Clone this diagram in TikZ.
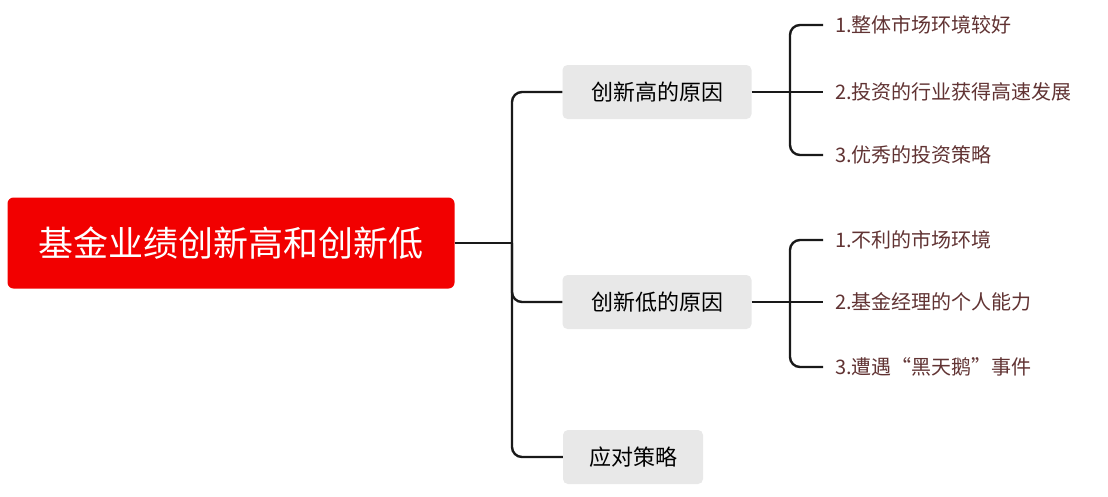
\documentclass[tikz,border=0pt]{standalone}
\usepackage{fontspec}
\setmainfont{Noto Sans CJK SC}
\begin{document}
\begin{tikzpicture}[x=1pt,y=-1pt,
  conn/.style={line width=2.4pt,black!90,rounded corners=10pt},
  root/.style={fill=red!95!black,text=white,rounded corners=6pt,minimum width=447pt,minimum height=91pt,font=\fontsize{35}{40}\selectfont},
  sub/.style={fill=black!9,rounded corners=5pt,minimum height=54pt,font=\fontsize{22}{26}\selectfont},
  leaf/.style={anchor=west,text=black!70!red!60!gray,inner sep=0pt,font=\fontsize{20}{24}\selectfont}]
\useasboundingbox (0,0) rectangle (1108,496);
\fill[white] (0,0) rectangle (1108,496);
\node[root] (r) at (231,243) {基金业绩创新高和创新低};
\node[sub,minimum width=189pt] (h) at (657,92) {创新高的原因};
\node[sub,minimum width=189pt] (l) at (657,302) {创新低的原因};
\node[sub,minimum width=140pt] (s) at (633,457) {应对策略};
\node[leaf] (h1) at (835,25) {1.整体市场环境较好};
\node[leaf] (h2) at (835,92) {2.投资的行业获得高速发展};
\node[leaf] (h3) at (835,155) {3.优秀的投资策略};
\node[leaf] (l1) at (835,240) {1.不利的市场环境};
\node[leaf] (l2) at (835,302) {2.基金经理的个人能力};
\node[leaf] (l3) at (835,367) {3.遭遇“黑天鹅”事件};
\coordinate (t) at (512,243);
\draw[conn] (r.east) -- (t);
\draw[conn] (h.west) -| (t) |- (s.west);
\draw[conn] (t) |- (l.west);
\foreach \p/\a/\b/\c in {h/h1/h2/h3,l/l1/l2/l3}{
  \draw[conn] (\p.east) -- (790,0 |- \p.east);
  \draw[conn] ([xshift=-12pt]\a.west) -| (790,0 |- \p.east) |- ([xshift=-12pt]\c.west);
  \draw[conn] (790,0 |- \b.west) -- ([xshift=-12pt]\b.west);
}
\end{tikzpicture}
\end{document}
